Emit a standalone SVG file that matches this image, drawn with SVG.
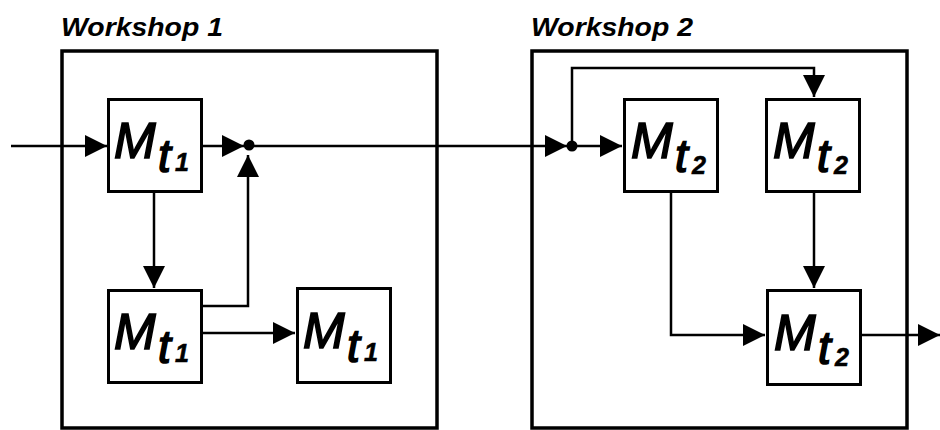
<svg xmlns="http://www.w3.org/2000/svg" width="940" height="430" viewBox="0 0 940 430">
  <style>
    .frame { fill: none; stroke: #000; stroke-width: 3.5; }
    .box { fill: #fff; stroke: #000; stroke-width: 3; }
    .title { font-family: "Liberation Sans", Arial, sans-serif; font-weight: bold; font-style: italic; font-size: 25px; fill: #000; }
    .lbl { font-family: "Liberation Sans", Arial, sans-serif; font-style: italic; fill: #000; stroke: #000; stroke-width: 1.6; }
    .m { font-size: 50px; }
    .t { font-size: 46px; }
    .d { font-size: 25px; font-weight: bold; stroke-width: 0.6; }
    .wire { fill: none; stroke: #000; stroke-width: 2.5; }
  </style>
  <defs>
    <marker id="arr" markerUnits="userSpaceOnUse" markerWidth="22" markerHeight="22" refX="22" refY="11" orient="auto">
      <path d="M0,0 L22,11 L0,22 Z" fill="#000"/>
    </marker>
  </defs>
  <rect width="940" height="430" fill="#fff"/>

  <g id="workshop1">
    <rect class="frame" x="62" y="51" width="375" height="377"/>
    <text class="title" x="61" y="36" textLength="162" lengthAdjust="spacingAndGlyphs">Workshop 1</text>
  </g>
  <g id="workshop2">
    <rect class="frame" x="532" y="51" width="375" height="377"/>
    <text class="title" x="531" y="36" textLength="162" lengthAdjust="spacingAndGlyphs">Workshop 2</text>
  </g>

  <g id="connectors">
    <path class="wire" d="M11,146 H107" marker-end="url(#arr)"/>
    <path class="wire" d="M203,146 H244" marker-end="url(#arr)"/>
    <path class="wire" d="M249,146 H567" marker-end="url(#arr)"/>
    <path class="wire" d="M572,146 H622" marker-end="url(#arr)"/>
    <path class="wire" d="M154,193 V288" marker-end="url(#arr)"/>
    <path class="wire" d="M203,306 H248 V155" marker-end="url(#arr)"/>
    <path class="wire" d="M203,333 H295" marker-end="url(#arr)"/>
    <path class="wire" d="M572,146 V68 H814 V97" marker-end="url(#arr)"/>
    <path class="wire" d="M814,193 V288" marker-end="url(#arr)"/>
    <path class="wire" d="M671,193 V335 H765" marker-end="url(#arr)"/>
    <path class="wire" d="M862,335 H940" marker-end="url(#arr)"/>
    <circle cx="249" cy="145" r="5.5" fill="#000"/>
    <circle cx="572" cy="146" r="5.5" fill="#000"/>
  </g>

  <g id="m1a">
    <rect class="box" x="108.5" y="99.5" width="93" height="92"/>
    <text class="lbl"><tspan class="m" x="114" y="158">M</tspan><tspan class="t" x="158" y="172">t</tspan><tspan class="d" x="175" y="171">1</tspan></text>
  </g>
  <g id="m1b">
    <rect class="box" x="108.5" y="290.5" width="93" height="92"/>
    <text class="lbl"><tspan class="m" x="114" y="349">M</tspan><tspan class="t" x="158" y="363">t</tspan><tspan class="d" x="175" y="362">1</tspan></text>
  </g>
  <g id="m1c">
    <rect class="box" x="297.5" y="288.5" width="93" height="94"/>
    <text class="lbl"><tspan class="m" x="303" y="348">M</tspan><tspan class="t" x="347" y="362">t</tspan><tspan class="d" x="364" y="361">1</tspan></text>
  </g>
  <g id="m2a">
    <rect class="box" x="624.5" y="99.5" width="93" height="92"/>
    <text class="lbl"><tspan class="m" x="631" y="158">M</tspan><tspan class="t" x="675" y="172">t</tspan><tspan class="d" x="692" y="174">2</tspan></text>
  </g>
  <g id="m2b">
    <rect class="box" x="766.5" y="99.5" width="93" height="92"/>
    <text class="lbl"><tspan class="m" x="773" y="158">M</tspan><tspan class="t" x="817" y="172">t</tspan><tspan class="d" x="834" y="174">2</tspan></text>
  </g>
  <g id="m2c">
    <rect class="box" x="767.5" y="290.5" width="93" height="94"/>
    <text class="lbl"><tspan class="m" x="774" y="350">M</tspan><tspan class="t" x="818" y="364">t</tspan><tspan class="d" x="835" y="366">2</tspan></text>
  </g>
</svg>
